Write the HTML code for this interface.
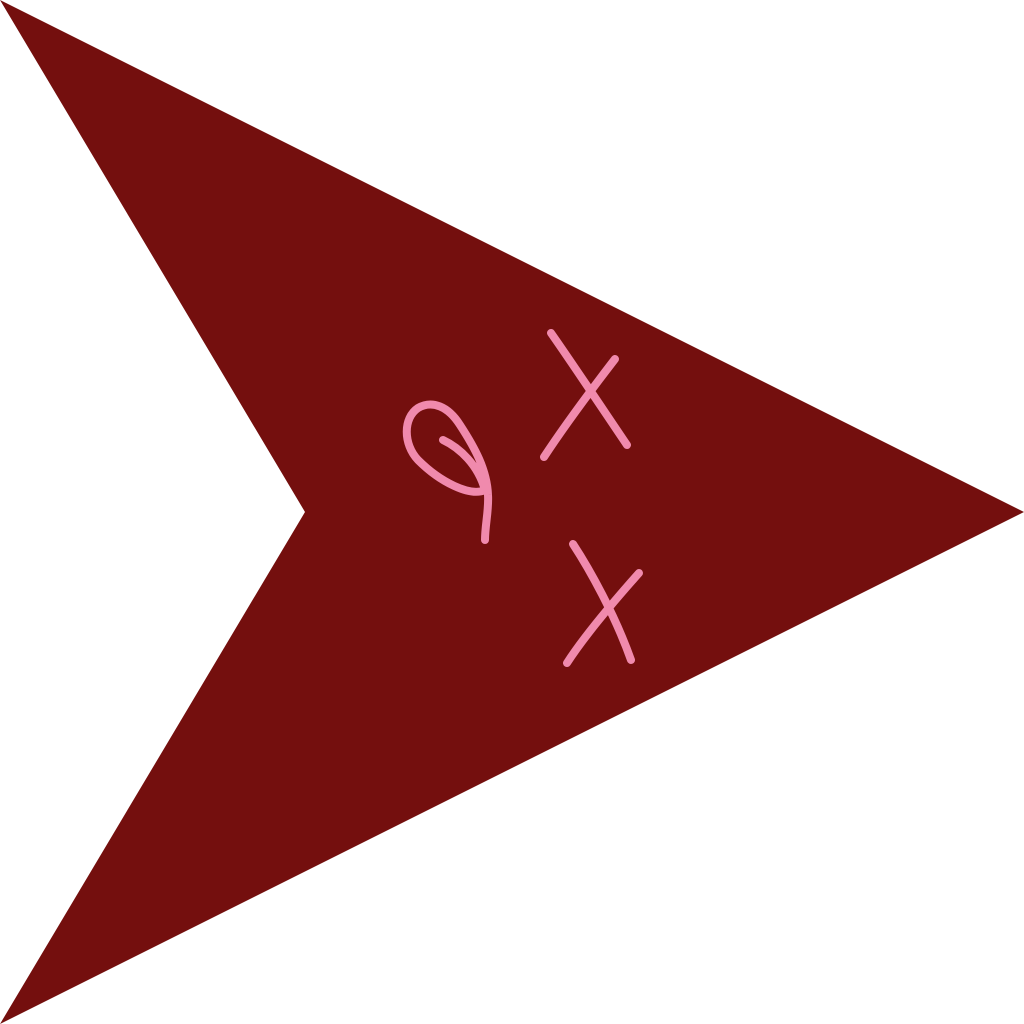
<!DOCTYPE html>
<html>
<head>
<meta charset="utf-8">
<style>
  html,body{margin:0;padding:0;background:#fff;}
  svg{display:block;}
</style>
</head>
<body>
<svg width="1024" height="1024" viewBox="0 0 1024 1024">
  <polygon points="0,0 1024,512 0,1024 305,512" fill="#740f0e"/>
  <g fill="none" stroke="#f08aad" stroke-width="8" stroke-linecap="round" stroke-linejoin="round">
    <path d="M443,440 C460,448 478,465 485,490 C470,497 440,482 418,460 C403,444 403,418 418,408 C432,400 448,406 460,425 C475,448 487,470 488,495 C489,510 485,525 485,540"/>
    <path d="M551,333 C570,360 600,405 627,445"/>
    <path d="M615,359 C595,385 565,425 544,457"/>
    <path d="M573,544 C590,570 615,615 631,660"/>
    <path d="M639,573 C615,600 585,635 567,663"/>
  </g>
</svg>
</body>
</html>
